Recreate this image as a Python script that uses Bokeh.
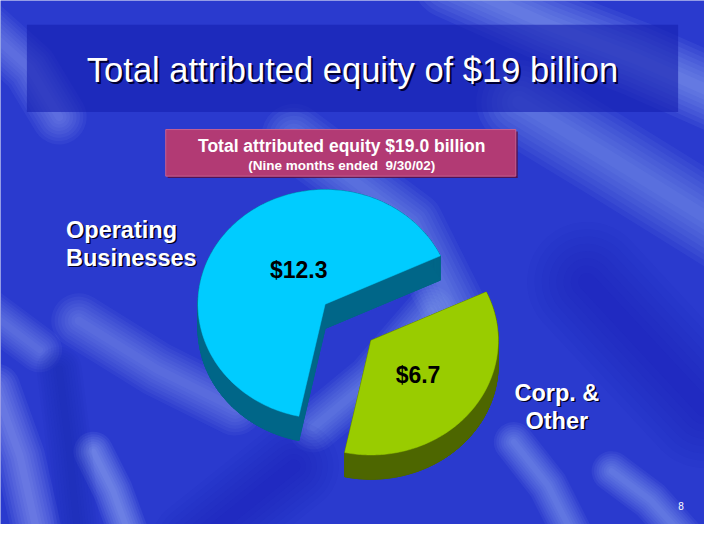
import numpy as np
from bokeh.plotting import figure
from bokeh.models import Range1d
from bokeh.core.properties import value
from bokeh.embed import file_html
from bokeh.resources import INLINE

# ---- data ----
categories = ["Operating Businesses", "Corp. & Other"]
values = [12.3, 6.7]
value_labels = ["$12.3", "$6.7"]
category_line1 = ["Operating", "Corp. &"]
category_line2 = ["Businesses", "Other"]
title_text = "Total attributed equity of $19 billion"
box_line1 = "Total attributed equity $19.0 billion"
box_line2 = "(Nine months ended\u00a0 9/30/02)"
page_number = "8"

# ---- styles / layout ----
TOP_COLORS = ["#00CCFF", "#99CC00"]
SIDE_COLORS = ["#006688", "#4D6600"]
EXPLODE = [0, 60]
START_DEG = 25.0
CX, CY, RX, RY, DEPTH = 332, 313, 130, 118, 25
FONT = "Liberation Sans"
BASE = "#2A3ACE"

W, H = 704, 524
p = figure(width=W, height=H, x_range=Range1d(0, 720), y_range=Range1d(540, 0),
           output_backend="svg", toolbar_location=None, min_border=0,
           x_axis_location=None, y_axis_location=None)
p.grid.visible = False
p.outline_line_color = None
p.background_fill_color = BASE
p.border_fill_color = BASE

# ---- soft background streaks (decoration) ----
light = "#B0C4FF"
dark = "#0E1CA8"
streaks = [
    # (xs, ys, color, max width, alpha)
    ([460, 560, 650, 740], [-20, 25, 60, 100], light, 75, 0.60),
    ([530, 620, 740], [105, 160, 235], light, 85, 0.48),
    ([300, 420, 470], [140, 230, 330], light, 65, 0.46),
    ([320, 380, 440], [440, 390, 320], light, 50, 0.46),
    ([-20, 30, 60], [25, 70, 120], light, 55, 0.50),
    ([-5, 20, 40], [400, 470, 560], light, 50, 0.62),
    ([95, 115, 135], [465, 505, 560], light, 40, 0.68),
    ([80, 160, 240], [330, 380, 420], light, 55, 0.44),
    ([-20, 40], [315, 360], light, 45, 0.44),
    ([525, 560, 590], [455, 500, 560], light, 40, 0.55),
    ([625, 665, 705], [485, 515, 560], light, 40, 0.55),
    ([60, 70, 80], [380, 460, 560], dark, 45, 0.45),
    ([600, 720], [290, 420], dark, 120, 0.40),
    ([200, 300], [560, 480], dark, 90, 0.40),
]
layers = 8
for xs, ys, col, wmax, a in streaks:
    for f in np.linspace(1.0, 0.15, layers):
        p.line(x=xs, y=ys, line_color=col, line_alpha=a / layers, line_width=wmax * f,
               line_cap="round", line_join="round")

# ---- title bar ----
p.quad(left=[27], right=[693], top=[25], bottom=[115], fill_color="#1620B0",
       fill_alpha=0.6, line_color=None)
p.text(x=[360], y=[72], text=[title_text], text_font=value(FONT), text_font_size="34.5px",
       text_align="center", text_baseline="middle", text_color="#000033", x_offset=2, y_offset=2)
p.text(x=[360], y=[72], text=[title_text], text_font=value(FONT), text_font_size="34.5px",
       text_align="center", text_baseline="middle", text_color="white")

# ---- magenta box ----
p.quad(left=[171], right=[529], top=[135], bottom=[183], fill_color="#5A0A38",
       fill_alpha=0.8, line_color=None)
p.quad(left=[169], right=[527], top=[133], bottom=[181], fill_color="#B23A74",
       line_color="#C86090", line_width=1)
p.text(x=[349], y=[150], text=[box_line1], text_font=value(FONT), text_font_size="17.5px",
       text_font_style="bold", text_align="center", text_baseline="middle", text_color="white")
p.text(x=[349], y=[170], text=[box_line2], text_font=value(FONT), text_font_size="13.5px",
       text_font_style="bold", text_align="center", text_baseline="middle", text_color="white")

# ---- 3D exploded pie ----
total = float(sum(values))
a0 = np.deg2rad(START_DEG)
for i, v in enumerate(values):
    span = 2 * np.pi * v / total
    a1 = a0 + span
    mid = (a0 + a1) / 2
    ox = EXPLODE[i] * np.cos(mid)
    oy = -EXPLODE[i] * np.sin(mid)
    t = np.linspace(a0, a1, 160)
    px = np.concatenate([[CX + ox], CX + ox + RX * np.cos(t)])
    py = np.concatenate([[CY + oy], CY + oy - RY * np.sin(t)])
    qx, qy = [], []
    n = len(px)
    for k in range(n):
        j = (k + 1) % n
        qx.append([px[k], px[j], px[j], px[k]])
        qy.append([py[k], py[j], py[j] + DEPTH, py[k] + DEPTH])
    qx.append(list(px))
    qy.append(list(py + DEPTH))
    p.patches(xs=qx, ys=qy, fill_color=SIDE_COLORS[i], line_color=SIDE_COLORS[i], line_width=1)
    p.patch(x=px, y=py, fill_color=TOP_COLORS[i], line_color=TOP_COLORS[i], line_width=0.5)
    a0 = a1

# value labels
LABEL_X = [305, 427]
LABEL_Y = [278, 386]
p.text(x=LABEL_X, y=LABEL_Y, text=value_labels, text_font=value(FONT), text_font_size="23px",
       text_font_style="bold", text_align="center", text_baseline="middle", text_color="black")

# category labels
CAT_X = [67, 569]
CAT_ALIGN = ["left", "center"]
CAT_Y1 = [236, 404]
LINE_GAP = 29
for i in range(len(categories)):
    for (xo, yo, col) in [(1.5, 1.5, "#000022"), (0, 0, "white")]:
        p.text(x=[CAT_X[i]], y=[CAT_Y1[i]], text=[category_line1[i]], text_font=value(FONT),
               text_font_size="23.5px", text_font_style="bold", text_align=CAT_ALIGN[i],
               text_baseline="middle", text_color=col, x_offset=xo, y_offset=yo)
        p.text(x=[CAT_X[i]], y=[CAT_Y1[i] + LINE_GAP], text=[category_line2[i]], text_font=value(FONT),
               text_font_size="23.5px", text_font_style="bold", text_align=CAT_ALIGN[i],
               text_baseline="middle", text_color=col, x_offset=xo, y_offset=yo)

# page number
p.text(x=[696], y=[521], text=[page_number], text_font=value(FONT), text_font_size="10px",
       text_align="center", text_baseline="middle", text_color="white")

open("out.html", "w").write(file_html(p, INLINE))
